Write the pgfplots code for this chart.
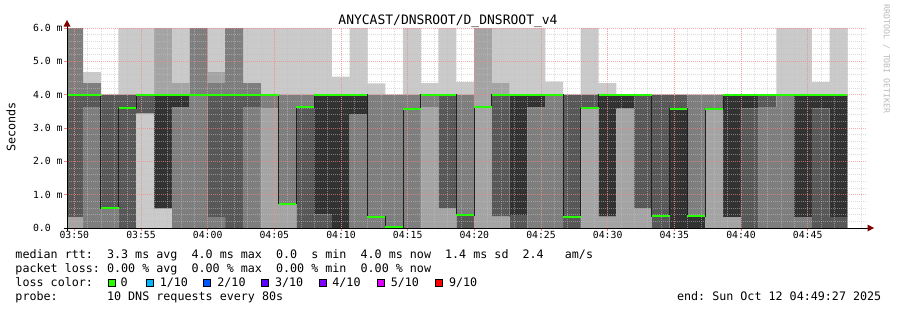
\documentclass[border=0pt]{standalone}
\usepackage{fontspec}
\setmainfont{DejaVu Sans Mono}
\usepackage{pgfplots}
\pgfplotsset{compat=1.18}
\usepackage{pgfplotstable}
\definecolor{cA}{RGB}{202,202,202}
\definecolor{cB}{RGB}{164,164,164}
\definecolor{cC}{RGB}{126,126,126}
\definecolor{cD}{RGB}{88,88,88}
\definecolor{cE}{RGB}{50,50,50}
\definecolor{lc0}{RGB}{38,255,0}
\definecolor{lc1}{RGB}{0,184,255}
\definecolor{lc2}{RGB}{0,89,255}
\definecolor{lc3}{RGB}{94,0,255}
\definecolor{lc4}{RGB}{126,0,255}
\definecolor{lc5}{RGB}{221,0,255}
\definecolor{lc9}{RGB}{255,0,0}
\definecolor{mgrid}{RGB}{255,128,128}
\definecolor{ngrid}{RGB}{192,192,192}
\definecolor{arrowred}{RGB}{128,0,0}
\definecolor{medline}{RGB}{32,32,32}
\definecolor{wm}{RGB}{185,185,185}
\newcommand\lf{\fontsize{11.7bp}{14bp}\selectfont}

\pgfplotstableread{
x p1 p2 p3 p4 p5 p6 p7 p8 p9 p10
32 0 0 0.33 0.33 4.0 4.0 4.0 6.5 6.5 6.5
112 0 0 0 3.63 4.0 4.0 4.0 4.35 4.35 4.68
192 0 0 0 0.6 0.6 0.6 4.0 4.0 4.0 4.0
272 0 0 0 0 3.6 3.6 4.0 4.0 4.0 6.5
352 0 3.43 3.43 3.43 4.0 4.0 4.0 4.0 4.0 6.5
432 0 0.58 0.58 0.58 0.58 4.0 4.0 4.0 6.5 6.5
512 0 0 0 3.63 3.63 4.0 4.0 4.0 4.35 6.5
592 0 0 0 4.0 4.0 4.0 4.0 6.5 6.5 6.5
672 0 0 0 0.33 4.0 4.0 4.0 4.35 4.68 6.5
752 0 0 0 0 4.0 4.0 4.0 6.5 6.5 6.5
832 0 0 0 3.63 4.0 4.0 4.0 4.35 4.35 6.5
912 0 0 3.58 4.0 4.0 4.0 4.0 4.0 4.0 6.5
992 0 0 0.73 0.73 0.73 0.73 0.73 4.0 4.0 6.5
1072 0 0 0 0 3.63 3.63 3.63 4.0 4.0 6.5
1152 0 0 0 0 0.4 4.0 4.0 4.0 4.0 6.5
1232 0 0 0 0 0 4.0 4.0 4.0 4.0 4.54
1312 0 0 0 3.4 3.4 4.0 4.0 4.0 4.0 6.5
1392 0 0 0 0.34 0.34 0.34 0.34 4.0 4.0 4.34
1472 0 0 0 0 0 0 0 4.0 4.0 4.0
1552 0 0 0 3.58 3.58 3.58 3.58 4.0 4.0 6.5
1632 0 0 3.63 4.0 4.0 4.0 4.0 4.0 4.0 4.35
1712 0 0 0.58 0.58 4.0 4.0 4.0 4.0 4.0 6.5
1792 0 0 0 0 0.39 0.39 0.39 4.0 4.0 4.38
1872 0 0 3.63 3.63 3.63 3.63 3.63 3.63 6.5 6.5
1952 0 0 0.34 0.34 4.0 4.0 4.0 4.0 4.35 6.5
2032 0 0 0 0 0.39 4.0 4.0 4.0 4.0 6.5
2112 0 0 0 3.63 3.63 4.0 4.0 4.0 4.0 6.5
2192 0 0 0 4.0 4.0 4.0 4.0 4.0 4.0 4.39
2272 0 0 0 0 0.34 0.34 4.0 4.0 4.0 4.0
2352 0 0 3.6 3.6 3.6 3.6 4.0 4.0 4.0 6.5
2432 0 0 0.34 0.34 0.34 4.0 4.0 4.0 4.0 4.35
2512 0 0 3.58 3.58 3.58 4.0 4.0 4.0 4.0 4.0
2592 0 0 0.58 0.58 4.0 4.0 4.0 4.0 4.0 4.0
2672 0 0 0 0 0.35 0.35 4.0 4.0 4.0 4.0
2752 0 0 0 0 0 3.58 4.0 4.0 4.0 4.0
2832 0 0 0 0 0 0.35 0.35 4.0 4.0 4.0
2912 0 0 3.58 3.58 3.58 3.58 3.58 4.0 4.0 4.0
2992 0 0 0.33 0.33 0.33 4.0 4.0 4.0 4.0 4.0
3072 0 0 0 0 3.58 4.0 4.0 4.0 4.0 4.0
3152 0 0 0 3.63 4.0 4.0 4.0 4.0 4.0 4.0
3232 0 0 0 4.0 4.0 4.0 4.0 4.0 4.0 6.5
3312 0 0 0 0.33 0.33 4.0 4.0 4.0 4.0 6.5
3392 0 0 0 0 3.58 4.0 4.0 4.0 4.0 4.38
3472 0 0 0 0 0.33 4.0 4.0 4.0 4.0 6.5
}\smoke

\pgfplotstableread{
x m
-8 4.0
72 4.0
152 0.6
232 3.6
312 4.0
392 4.0
472 4.0
552 4.0
632 4.0
712 4.0
792 4.0
872 4.0
952 0.73
1032 3.63
1112 4.0
1192 4.0
1272 4.0
1352 0.34
1432 0.03
1512 3.58
1592 4.0
1672 4.0
1752 0.39
1832 3.63
1912 4.0
1992 4.0
2072 4.0
2152 4.0
2232 0.34
2312 3.6
2392 4.0
2472 4.0
2552 4.0
2632 0.35
2712 3.58
2792 0.35
2872 3.58
2952 4.0
3032 4.0
3112 4.0
3192 4.0
3272 4.0
3352 4.0
3432 4.0
3512 4.0
}\med

\begin{document}
\begin{tikzpicture}
\useasboundingbox (0,0) rectangle (897bp,-310bp);
\begin{axis}[
  at={(67bp,-228bp)}, anchor=south west,
  scale only axis, width=800bp, height=200bp,
  xmin=0, xmax=3600, ymin=0, ymax=6,
  ybar stacked, bar width=80.6,
  axis on top,
  axis line style={draw=none},
  xtick={33,333,...,3333},
  xticklabels={03:50,03:55,04:00,04:05,04:10,04:15,04:20,04:25,04:30,04:35,04:40,04:45},
  minor xtick={33,93,...,3573},
  ytick={0,1,2,3,4,5,6},
  yticklabels={0.0\hphantom{\ m},1.0 m,2.0 m,3.0 m,4.0 m,5.0 m,6.0 m},
  minor y tick num=4,
  grid=both,
  major grid style={draw=mgrid, dash pattern=on 1bp off 1bp, line width=0.9bp, opacity=0.65},
  minor grid style={draw=ngrid, dash pattern=on 1bp off 1bp, line width=0.9bp, opacity=0.55},
  tick pos=left, tick align=outside,
  major tick length=3bp, minor tick length=0pt,
  tick style={draw=mgrid, line width=1bp},
  tick label style={font=\fontsize{9.8bp}{11bp}\selectfont, inner sep=0pt},
  xticklabel style={anchor=north},
  yticklabel style={anchor=east, xshift=-1.2bp},
]
\addplot[draw=none, fill=none] table[x=x, y=p1] {\smoke};
\addplot[draw=none, fill=cA] table[x=x, y expr=\thisrow{p2}-\thisrow{p1}] {\smoke};
\addplot[draw=none, fill=cB] table[x=x, y expr=\thisrow{p3}-\thisrow{p2}] {\smoke};
\addplot[draw=none, fill=cC] table[x=x, y expr=\thisrow{p4}-\thisrow{p3}] {\smoke};
\addplot[draw=none, fill=cD] table[x=x, y expr=\thisrow{p5}-\thisrow{p4}] {\smoke};
\addplot[draw=none, fill=cE] table[x=x, y expr=\thisrow{p6}-\thisrow{p5}] {\smoke};
\addplot[draw=none, fill=cD] table[x=x, y expr=\thisrow{p7}-\thisrow{p6}] {\smoke};
\addplot[draw=none, fill=cC] table[x=x, y expr=\thisrow{p8}-\thisrow{p7}] {\smoke};
\addplot[draw=none, fill=cB] table[x=x, y expr=\thisrow{p9}-\thisrow{p8}] {\smoke};
\addplot[draw=none, fill=cA] table[x=x, y expr=\thisrow{p10}-\thisrow{p9}] {\smoke};
\end{axis}
\begin{axis}[
  at={(67bp,-228bp)}, anchor=south west,
  scale only axis, width=800bp, height=200bp,
  xmin=0, xmax=3600, ymin=0, ymax=6,
  hide axis,
]
\addplot[const plot mark left, draw=medline, line width=1bp, mark=none] table[x=x, y=m] {\med};
\addplot[jump mark left, draw=lc0, line width=2bp, mark=none] table[x=x, y=m] {\med};
\end{axis}
% axis lines with arrows
\draw[line width=1bp, black] (64bp,-228bp) -- (868bp,-228bp);
\fill[arrowred] (874bp,-228bp) -- (867.5bp,-224.5bp) -- (867.5bp,-231.5bp) -- cycle;
\draw[line width=1bp, black] (67bp,-231bp) -- (67bp,-25bp);
\fill[arrowred] (67bp,-20bp) -- (63.5bp,-26.5bp) -- (70.5bp,-26.5bp) -- cycle;
% title and labels
\node[anchor=base, inner sep=0pt, font=\fontsize{13bp}{15bp}\selectfont] at (448bp,-24bp) {ANYCAST/DNSROOT/D\_DNSROOT\_v4};
\node[rotate=90, inner sep=0pt, font=\lf] at (11bp,-127bp) {Seconds};
\node[rotate=-90, inner sep=0pt, text=wm, font=\fontsize{8.2bp}{10bp}\selectfont] at (886.5bp,-59bp) {RRDTOOL / TOBI OETIKER};
% legend
\node[anchor=base west, inner sep=0pt, font=\lf] at (15.3bp,-258bp) {median~rtt:~~3.3~ms~avg~~4.0~ms~max~~0.0~~s~min~~4.0~ms~now~~1.4~ms~sd~~2.4~~~am/s};
\node[anchor=base west, inner sep=0pt, font=\lf] at (15.3bp,-272bp) {packet~loss:~0.00~\%~avg~~0.00~\%~max~~0.00~\%~min~~0.00~\%~now};
\node[anchor=base west, inner sep=0pt, font=\lf] at (15.3bp,-286bp) {loss~color:};
\node[anchor=base west, inner sep=0pt, font=\lf] at (15.3bp,-300bp) {probe:~~~~~~~10~DNS~requests~every~80s};
\node[anchor=base east, inner sep=0pt, font=\lf] at (881.5bp,-300bp) {end:~Sun~Oct~12~04:49:27~2025};
% loss colour boxes
\draw[line width=0.9bp, black, fill=lc0] (108.8bp,-279bp) rectangle (115.8bp,-286bp);
\draw[line width=0.9bp, black, fill=lc1] (146.3bp,-279bp) rectangle (153.3bp,-286bp);
\draw[line width=0.9bp, black, fill=lc2] (203.8bp,-279bp) rectangle (210.8bp,-286bp);
\draw[line width=0.9bp, black, fill=lc3] (261.5bp,-279bp) rectangle (268.5bp,-286bp);
\draw[line width=0.9bp, black, fill=lc4] (319.3bp,-279bp) rectangle (326.3bp,-286bp);
\draw[line width=0.9bp, black, fill=lc5] (377bp,-279bp) rectangle (384bp,-286bp);
\draw[line width=0.9bp, black, fill=lc9] (435.3bp,-279bp) rectangle (442.3bp,-286bp);
\node[anchor=base west, inner sep=0pt, font=\lf] at (120.5bp,-286bp) {0};
\node[anchor=base west, inner sep=0pt, font=\lf] at (159.6bp,-286bp) {1/10};
\node[anchor=base west, inner sep=0pt, font=\lf] at (217.2bp,-286bp) {2/10};
\node[anchor=base west, inner sep=0pt, font=\lf] at (274.9bp,-286bp) {3/10};
\node[anchor=base west, inner sep=0pt, font=\lf] at (332.2bp,-286bp) {4/10};
\node[anchor=base west, inner sep=0pt, font=\lf] at (390.6bp,-286bp) {5/10};
\node[anchor=base west, inner sep=0pt, font=\lf] at (448.9bp,-286bp) {9/10};
\end{tikzpicture}
\end{document}
